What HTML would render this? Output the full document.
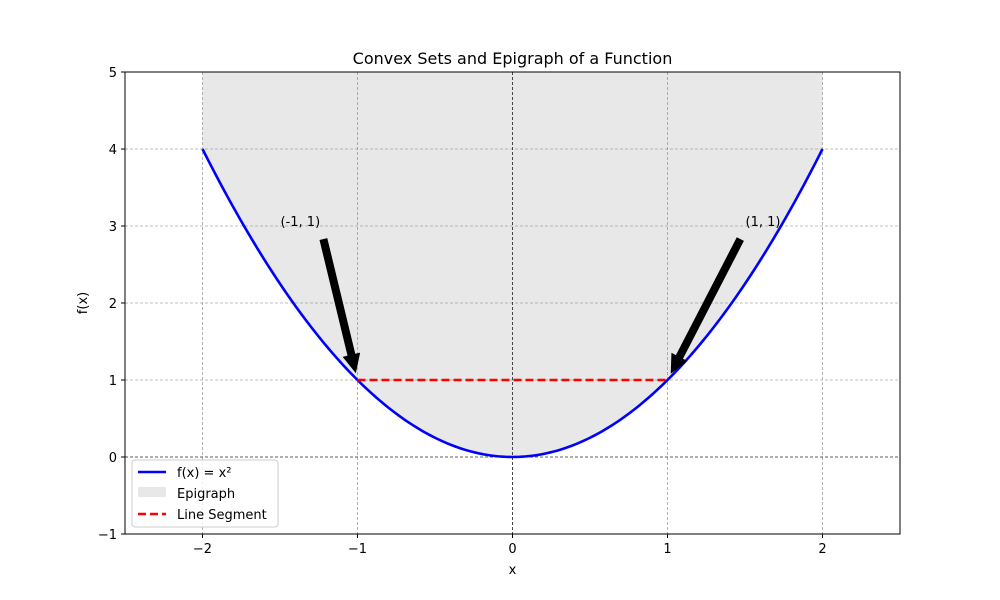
<!DOCTYPE html>
<html><head><meta charset="utf-8"><style>
body{margin:0;background:#fff}
svg{display:block;font-family:"DejaVu Sans","Liberation Sans",sans-serif}
</style></head><body>
<svg id="chart" width="1000" height="600" xmlns="http://www.w3.org/2000/svg">
<text x="512.5" y="64" font-size="16" text-anchor="middle">Convex Sets and Epigraph of a Function</text>
<g id="plot"></g>
</svg>
<script>
const xTicks=[-2,-1,0,1,2];
const yTicks=[-1,0,1,2,3,4,5];
const curveXMin=-2, curveXMax=2;
const segX=[-1,1];
const segY=[1,1];
const annTargets=[[-1,1],[1,1]];
const annLabels=["(-1, 1)","(1, 1)"];
const annText=[[-1.5,3],[1.5,3]];
const annTail=[[-1.22,2.83],[1.47,2.83]];

const L=125,R=900,T=72,B=534,xmin=-2.5,xmax=2.5,ymin=-1,ymax=5;
const sx=v=>L+(v-xmin)/(xmax-xmin)*(R-L);
const sy=v=>B-(v-ymin)/(ymax-ymin)*(B-T);
const NS="http://www.w3.org/2000/svg";
const g=document.getElementById('plot');
function mk(tag,attrs,parent){const e=document.createElementNS(NS,tag);for(const k in attrs)e.setAttribute(k,attrs[k]);(parent||g).appendChild(e);return e;}
const f=x=>x*x;
let pts=[];
for(let i=0;i<=200;i++){const x=curveXMin+(curveXMax-curveXMin)*i/200;pts.push(sx(x)+','+sy(Math.min(f(x),ymax)));}
const epi=mk('polygon',{points:pts.join(' ')+' '+sx(curveXMax)+','+sy(ymax)+' '+sx(curveXMin)+','+sy(ymax),fill:'#e8e8e8'});


xTicks.forEach(t=>{const l=mk('line',{x1:sx(t),x2:sx(t),y1:T,y2:B,stroke:'#808080','stroke-width':0.6,'stroke-dasharray':'3,2'});

});
yTicks.forEach(t=>{const l=mk('line',{x1:L,x2:R,y1:sy(t),y2:sy(t),stroke:'#808080','stroke-width':0.6,'stroke-dasharray':'3,2'});

});
const ax0=mk('line',{x1:L,x2:R,y1:sy(0),y2:sy(0),stroke:'#000','stroke-width':0.6,'stroke-dasharray':'3,2'});


const ay0=mk('line',{x1:sx(0),x2:sx(0),y1:T,y2:B,stroke:'#000','stroke-width':0.6,'stroke-dasharray':'3,2'});


let cp=[];
for(let i=0;i<=200;i++){const x=curveXMin+(curveXMax-curveXMin)*i/200;cp.push((i?'L':'M')+sx(x)+','+sy(f(x)));}
const curve=mk('path',{d:cp.join(''),fill:'none',stroke:'#0000ff','stroke-width':2.6});


const seg=mk('line',{x1:sx(segX[0]),y1:sy(segY[0]),x2:sx(segX[1]),y2:sy(segY[1]),stroke:'#ff0000','stroke-width':2.6,'stroke-dasharray':'8,4'});


annTargets.forEach((tg,i)=>{
 const tx=sx(annTail[i][0]),ty=sy(annTail[i][1]);
 const dx0=sx(tg[0])-tx,dy0=sy(tg[1])-ty,len=Math.hypot(dx0,dy0);
 const ux=dx0/len,uy=dy0/len,nx=-uy,ny=ux;
 const hx=tx+ux*(len-7),hy=ty+uy*(len-7);
 const bx=hx-ux*19,by=hy-uy*19,w=4,hw=9;
 const p=[[tx+nx*w,ty+ny*w],[bx+nx*w,by+ny*w],[bx+nx*hw,by+ny*hw],[hx,hy],[bx-nx*hw,by-ny*hw],[bx-nx*w,by-ny*w],[tx-nx*w,ty-ny*w]];
 const a=mk('polygon',{points:p.map(q=>q.join(',')).join(' '),fill:'#000'});
 
 
 const t=mk('text',{x:sx(annText[i][0])+0.5,y:sy(annText[i][1])},g);
 t.setAttribute('font-size','13');
 t.textContent=annLabels[i];
 
 
});
const sp=mk('rect',{x:L,y:T,width:R-L,height:B-T,fill:'none',stroke:'#000','stroke-width':1});


xTicks.forEach(t=>{mk('line',{x1:sx(t),x2:sx(t),y1:B,y2:B+4,stroke:'#000'});
 const tx=mk('text',{x:sx(t),y:B+19,'font-size':13,'text-anchor':'middle'});tx.textContent=(t<0?'\u2212'+(-t):t);
 
 });
yTicks.forEach(t=>{mk('line',{x1:L-4,x2:L,y1:sy(t),y2:sy(t),stroke:'#000'});
 const ty=mk('text',{x:L-8,y:sy(t)+5,'font-size':13,'text-anchor':'end'});ty.textContent=(t<0?'\u2212'+(-t):t);
 
 });
const xl=mk('text',{x:512.5,y:574,'font-size':13,'text-anchor':'middle'});xl.textContent='x';


const yl=mk('text',{x:0,y:0,'font-size':13,'text-anchor':'middle',transform:'translate(87,303) rotate(-90)'});yl.textContent='f(x)';


const lg=mk('g',{});


mk('rect',{x:132,y:460,width:146,height:67,rx:3,fill:'#fff','fill-opacity':0.8,stroke:'#ccc'},lg);
mk('line',{x1:138,x2:166,y1:472,y2:472,stroke:'#0000ff','stroke-width':2.6},lg);
mk('rect',{x:138,y:487,width:28,height:10,fill:'#e8e8e8'},lg);
mk('line',{x1:138,x2:166,y1:514,y2:514,stroke:'#ff0000','stroke-width':2.6,'stroke-dasharray':'8,4'},lg);
[['f(x) = x²',477],['Epigraph',498],['Line Segment',519]].forEach(([s,y])=>{const t=mk('text',{x:177,y:y,'font-size':13},lg);t.textContent=s;
 
 });
</script>
</body></html>
